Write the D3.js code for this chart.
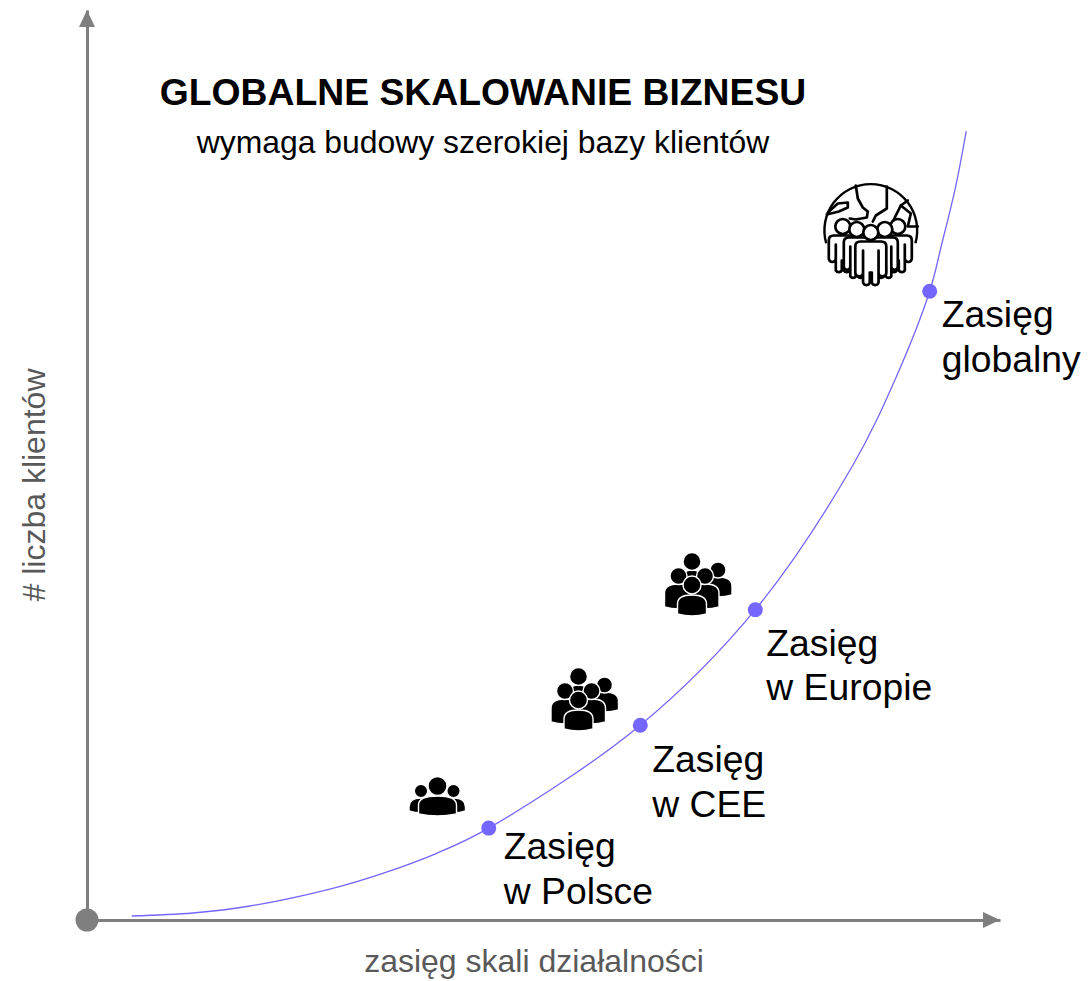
<!DOCTYPE html>
<html>
<head>
<meta charset="utf-8">
<script src="https://cdn.jsdelivr.net/npm/d3@7"></script>
<style>
html, body { margin: 0; padding: 0; background: #fff; }
text { font-family: "Liberation Sans", Arial, sans-serif; }
</style>
</head>
<body>
<div id="chart"></div>
<script>
// growth curve, axis units 0-100
var curveX = [4.9, 11.6, 17.85, 26.6, 32.4, 38.3, 44.0, 60.6, 73.2, 83.9, 88.6, 92.3, 93.6, 95.1, 96.3];
var curveY = [0.44, 0.77, 1.54, 3.4, 5.13, 7.33, 10.1, 21.4, 34.1, 50, 59.6, 69.1, 74.2, 80.4, 86.7];

var stageNames = ["Polska", "CEE", "Europa", "Globalny"];
var stageX = [44.0, 60.6, 73.2, 92.3];
var stageY = [10.1, 21.4, 34.1, 69.1];
var stageLabels = [["Zasięg", "w Polsce"], ["Zasięg", "w CEE"], ["Zasięg", "w Europie"], ["Zasięg", "globalny"]];

var titleText = "GLOBALNE SKALOWANIE BIZNESU";
var subtitleText = "wymaga budowy szerokiej bazy klientów";
var xAxisLabel = "zasięg skali działalności";
var yAxisLabel = "# liczba klientów";

var width = 1088, height = 981;
var axisGrey = "#7f7f7f", curveColor = "#7566ff";

// label offset from its dot, px
var labelDx = [15, 12, 11, 12];
var labelDy = [31, 47, 46, 36];

var x = d3.scaleLinear().domain([0, 100]).range([87, 1000]);
var y = d3.scaleLinear().domain([0, 100]).range([920, 10]);

var svg = d3.select("#chart").append("svg")
    .attr("width", width)
    .attr("height", height)
    .style("display", "block");

// axes, no ticks in the original so just the domain line + arrow head
var xAxis = d3.axisBottom(x).tickValues([]).tickSizeOuter(0);
var yAxis = d3.axisLeft(y).tickValues([]).tickSizeOuter(0);

svg.append("g").attr("transform", "translate(0," + y(0) + ")").call(xAxis)
    .select(".domain").attr("stroke", axisGrey).attr("stroke-width", 3);
svg.append("g").attr("transform", "translate(" + x(0) + ",0)").call(yAxis)
    .select(".domain").attr("stroke", axisGrey).attr("stroke-width", 3);

svg.append("path")
    .attr("d", d3.line()([[x(100) - 17, y(0) - 8], [x(100), y(0)], [x(100) - 17, y(0) + 8]]) + "Z")
    .attr("fill", axisGrey);
svg.append("path")
    .attr("d", d3.line()([[x(0) - 8, y(100) + 17], [x(0), y(100)], [x(0) + 8, y(100) + 17]]) + "Z")
    .attr("fill", axisGrey);
svg.append("circle").attr("cx", x(0)).attr("cy", y(0)).attr("r", 11.5).attr("fill", axisGrey);

// curve
var line = d3.line()
    .x(function (d) { return x(d[0]); })
    .y(function (d) { return y(d[1]); })
    .curve(d3.curveCatmullRom.alpha(0.5));

svg.append("path")
    .attr("d", line(d3.zip(curveX, curveY)))
    .attr("fill", "none")
    .attr("stroke", curveColor)
    .attr("stroke-width", 1.3);

var stages = stageNames.map(function (d, i) {
    return { name: d, x: stageX[i], y: stageY[i], label: stageLabels[i], dx: labelDx[i], dy: labelDy[i] };
});

svg.selectAll(".dot")
    .data(stages)
    .enter().append("circle")
    .attr("class", "dot")
    .attr("cx", function (d) { return x(d.x); })
    .attr("cy", function (d) { return y(d.y); })
    .attr("r", 7.5)
    .attr("fill", curveColor);

svg.selectAll(".stage-label")
    .data(stages)
    .enter().append("text")
    .attr("class", "stage-label")
    .attr("y", function (d) { return y(d.y) + d.dy; })
    .attr("font-size", 37.3)
    .attr("fill", "#000")
    .selectAll("tspan")
    .data(function (d) { return d.label.map(function (t) { return { t: t, px: x(d.x) + d.dx }; }); })
    .enter().append("tspan")
    .attr("x", function (d) { return d.px; })
    .attr("dy", function (d, i) { return i ? 44.5 : 0; })
    .text(function (d) { return d.t; });

// texts
svg.append("text").attr("x", 483).attr("y", 105).attr("text-anchor", "middle")
    .attr("font-size", 37.3).attr("font-weight", "bold").text(titleText);
svg.append("text").attr("x", 483).attr("y", 153).attr("text-anchor", "middle")
    .attr("font-size", 31.9).text(subtitleText);
svg.append("text").attr("x", 534).attr("y", 972).attr("text-anchor", "middle")
    .attr("font-size", 32).attr("fill", "#595959").text(xAxisLabel);
svg.append("text").attr("transform", "translate(45,485) rotate(-90)").attr("text-anchor", "middle")
    .attr("font-size", 32).attr("fill", "#595959").text(yAxisLabel);

// filled person: head at cx,cy + dome body between top and bottom
function person(g, cx, cy, r, w, top, bottom) {
    g.append("path")
        .attr("d", "M" + (cx - w) + "," + (bottom - 2) +
            "V" + (top + 9) +
            "C" + (cx - w) + "," + (top + 2) + " " + (cx - w * 0.6) + "," + top + " " + cx + "," + top +
            "C" + (cx + w * 0.6) + "," + top + " " + (cx + w) + "," + (top + 2) + " " + (cx + w) + "," + (top + 9) +
            "V" + (bottom - 2) +
            "Q" + cx + "," + (bottom + 2) + " " + (cx - w) + "," + (bottom - 2) + "Z")
        .attr("fill", "#000").attr("stroke", "#fff").attr("stroke-width", 1.4);
    g.append("circle").attr("cx", cx).attr("cy", cy).attr("r", r)
        .attr("fill", "#000").attr("stroke", "#fff").attr("stroke-width", 1.4);
}

// crowd drawn around the front head of the Europe icon
function bigCrowd(dx, dy) {
    var g = svg.append("g").attr("transform", "translate(" + dx + "," + dy + ")");
    person(g, 718, 570, 8, 14, 577, 597);
    person(g, 692, 561.5, 9, 10, 570, 590);
    person(g, 678.5, 576, 8.5, 14, 584, 609);
    person(g, 705, 576, 8.5, 14, 584, 609);
    person(g, 692, 585, 9, 14.5, 595, 616);
}

function smallCrowd() {
    var g = svg.append("g");
    person(g, 421, 791, 6.7, 12, 798, 813);
    person(g, 453.5, 791, 6.7, 12, 798, 813);
    person(g, 437.5, 786, 9.5, 19, 796, 816);
}

smallCrowd();
bigCrowd(-113.5, 115);
bigCrowd(0, 0);

// global crowd icon: globe outline with outlined people in front
var globe = svg.append("g").attr("transform", "translate(870.8,230.5)")
    .attr("fill", "none").attr("stroke", "#000").attr("stroke-width", 2.7)
    .attr("stroke-linejoin", "round").attr("stroke-linecap", "round");

globe.append("path")
    .attr("d", d3.arc().innerRadius(45.2).outerRadius(47.6).startAngle(-1.85).endAngle(1.85)())
    .attr("fill", "#000").attr("stroke", "none");

var land = d3.line().curve(d3.curveLinear);
var continents = [
    [[-15, -45], [-13, -32], [-8, -23], [-3, -19], [-4, -13], [-15, -11], [-21, -12]],
    [[16, -44], [16, -22], [5, -15], [2, -9]],
    [[-43, -18], [-33, -27], [-23, -28], [-23, -23], [-32, -19], [-44, -16]],
    [[37, -30], [30, -25], [23, -11]],
    [[30, -25], [40, -17], [37, -4], [47, -4]]
];
continents.forEach(function (c) {
    globe.append("path").attr("d", land(c));
});

// outline person: arms and two legs, px relative to the globe centre
function outlined(cx, headY, r, w, sh, arm, leg) {
    var t = w * 0.5;
    var g = globe.append("g");
    g.append("path")
        .attr("d", "M" + (cx - w) + "," + arm +
            "V" + (sh + 5) +
            "Q" + (cx - w) + "," + sh + " " + (cx - w + 5) + "," + sh +
            "H" + (cx + w - 5) +
            "Q" + (cx + w) + "," + sh + " " + (cx + w) + "," + (sh + 5) +
            "V" + arm +
            "A3,3 0 0 1 " + (cx + t) + "," + arm +
            "V" + (sh + 9) +
            "V" + leg +
            "A3.5,3.5 0 0 1 " + (cx + 1) + "," + leg +
            "V" + (leg - 10) +
            "H" + (cx - 1) +
            "V" + leg +
            "A3.5,3.5 0 0 1 " + (cx - t) + "," + leg +
            "V" + (sh + 9) +
            "V" + arm +
            "A3,3 0 0 1 " + (cx - w) + "," + arm + "Z")
        .attr("fill", "#fff");
    g.append("circle").attr("cx", cx).attr("cy", headY).attr("r", r).attr("fill", "#fff");
}
outlined(-28, -4, 7.5, 14, 5, 28, 40);
outlined(27, -4, 7.5, 14, 5, 28, 40);
outlined(-14, -1, 7.5, 13, 7, 36, 46);
outlined(14, -1, 7.5, 13, 7, 36, 46);
outlined(0, 2, 7.5, 15.5, 11, 42, 52);
</script>
</body>
</html>
